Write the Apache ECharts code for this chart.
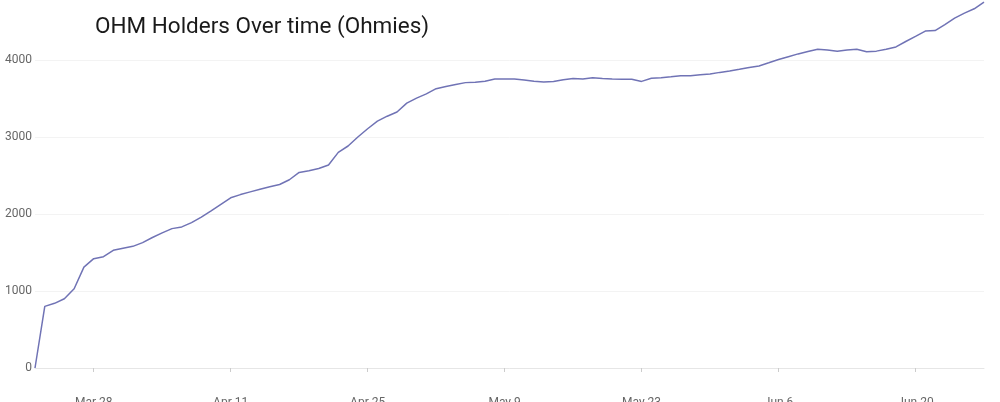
<!DOCTYPE html>
<html>
<head>
<meta charset="utf-8">
<script src="https://cdn.jsdelivr.net/npm/echarts@6/dist/echarts.min.js"></script>
<style>html,body{margin:0;padding:0;background:#fff;overflow:hidden;}#c{width:1000px;height:402px;}</style>
</head>
<body>
<div id="c"></div>
<script>
const titleText = 'OHM Holders Over time (Ohmies)';
const startDate = '2021-03-22';
const holders = [
  0, 800, 840, 900, 1030, 1310, 1420, 1445, 1528, 1556,
  1580, 1628, 1695, 1755, 1810, 1832, 1888, 1960, 2040, 2125,
  2210, 2252, 2287, 2322, 2355, 2383, 2445, 2540, 2561, 2590,
  2637, 2800, 2883, 3000, 3107, 3205, 3270, 3325, 3440, 3505,
  3560, 3627, 3656, 3681, 3706, 3711, 3725, 3752, 3753, 3753,
  3740, 3723, 3713, 3720, 3743, 3760, 3753, 3769, 3760, 3753,
  3751, 3749, 3722, 3762, 3770, 3782, 3796, 3796, 3807, 3818,
  3839, 3856, 3879, 3903, 3923, 3963, 4006, 4043, 4079, 4110,
  4139, 4130, 4114, 4130, 4139, 4106, 4115, 4140, 4170, 4240,
  4306, 4375, 4382, 4460, 4543, 4608, 4665, 4750
];
const tickLabels = ['Mar 28', 'Apr 11', 'Apr 25', 'May 9', 'May 23', 'Jun 6', 'Jun 20'];
const yTicks = [0, 1000, 2000, 3000, 4000];

const months = ['Jan','Feb','Mar','Apr','May','Jun','Jul','Aug','Sep','Oct','Nov','Dec'];
const d0 = new Date(startDate + 'T00:00:00Z');
const dates = holders.map((_, i) => {
  const d = new Date(d0.getTime() + i * 86400000);
  return months[d.getUTCMonth()] + ' ' + d.getUTCDate();
});
const showTick = (i) => tickLabels.indexOf(dates[i]) >= 0;

const chart = echarts.init(document.getElementById('c'), null, {renderer: 'canvas', width: 1000, height: 402});
chart.setOption({
  animation: false,
  backgroundColor: '#ffffff',
  title: {
    text: titleText,
    left: 90, top: 11,
    textStyle: {fontFamily: 'Roboto', fontSize: 22.5, fontWeight: 'normal', color: '#1a1a1a'}
  },
  grid: {left: 35, right: 16, top: 0, bottom: 34, containLabel: false, outerBoundsMode: 'none'},
  xAxis: {
    type: 'category',
    data: dates,
    boundaryGap: false,
    offset: 21,
    axisLine: {lineStyle: {color: '#e6e6e6', width: 1}},
    axisTick: {interval: (i) => showTick(i), length: 4, lineStyle: {color: '#cccccc'}},
    axisLabel: {interval: (i) => showTick(i), color: '#666', fontSize: 12, fontFamily: 'Roboto', margin: 8},
    splitLine: {show: false}
  },
  yAxis: {
    type: 'value',
    min: 0, max: 4779,
    interval: 1000,
    axisLine: {show: false},
    axisTick: {show: false},
    axisLabel: {
      color: '#666', fontSize: 12, fontFamily: 'Roboto', margin: 3,
      formatter: (v) => yTicks.indexOf(v) >= 0 ? String(v) : ''
    },
    splitLine: {showMaxLine: false, lineStyle: {color: '#f3f3f3', width: 1}}
  },
  series: [{
    type: 'line',
    data: holders,
    showSymbol: false,
    symbol: 'none',
    lineStyle: {color: '#7073b5', width: 1.5},
    itemStyle: {color: '#7073b5'}
  }]
});
</script>
</body>
</html>
